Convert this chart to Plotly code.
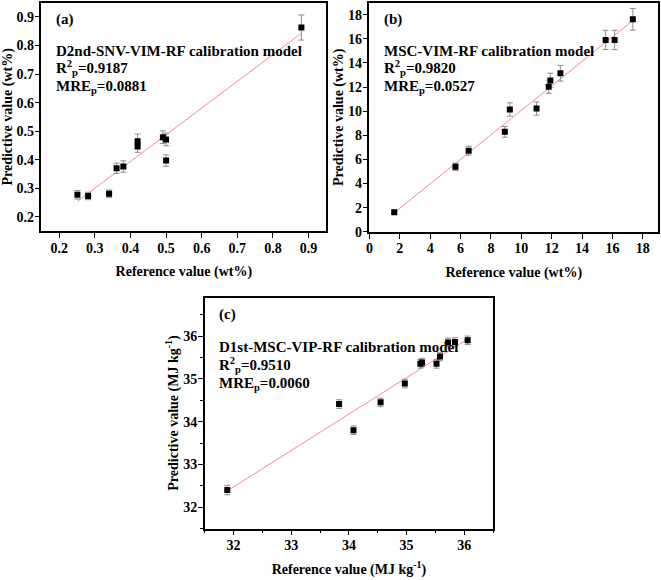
import plotly.graph_objects as go

# ---------------- data ----------------
# Panel (a)
a_ref = [0.251, 0.281, 0.340, 0.361, 0.380, 0.420, 0.420, 0.491, 0.500, 0.500, 0.880]
a_pred = [0.277, 0.273, 0.281, 0.370, 0.376, 0.465, 0.446, 0.479, 0.471, 0.397, 0.863]
a_err = [0.015, 0.013, 0.013, 0.018, 0.020, 0.025, 0.020, 0.022, 0.022, 0.020, 0.044]
a_fit_x = [0.251, 0.880]
a_fit_y = [0.254, 0.843]
a_ticks = [0.2, 0.3, 0.4, 0.5, 0.6, 0.7, 0.8, 0.9]
a_ticklabels = ["0.2", "0.3", "0.4", "0.5", "0.6", "0.7", "0.8", "0.9"]

# Panel (b)
b_ref = [1.63, 5.66, 6.53, 8.91, 9.24, 11.00, 11.80, 11.91, 12.57, 15.55, 16.14, 17.34]
b_pred = [1.62, 5.39, 6.72, 8.29, 10.14, 10.22, 12.03, 12.55, 13.15, 15.91, 15.91, 17.62]
b_err = [0.10, 0.30, 0.37, 0.45, 0.55, 0.55, 0.55, 0.60, 0.65, 0.80, 0.80, 0.90]
b_fit_x = [1.63, 17.34]
b_fit_y = [1.58, 17.52]
b_ticks = [0, 2, 4, 6, 8, 10, 12, 14, 16, 18]
b_ticklabels = ["0", "2", "4", "6", "8", "10", "12", "14", "16", "18"]

# Panel (c)
c_ref = [31.89, 33.83, 34.08, 34.55, 34.97, 35.24, 35.27, 35.52, 35.58, 35.72, 35.84, 36.06]
c_pred = [32.40, 34.41, 33.80, 34.45, 34.89, 35.35, 35.38, 35.35, 35.52, 35.85, 35.86, 35.90]
c_err = [0.11, 0.10, 0.10, 0.10, 0.10, 0.10, 0.10, 0.10, 0.10, 0.10, 0.10, 0.10]
c_fit_x = [31.89, 36.06]
c_fit_y = [32.38, 35.93]
c_ticks = [32, 33, 34, 35, 36]
c_ticklabels = ["32", "33", "34", "35", "36"]

panel_labels = ["(a)", "(b)", "(c)"]
model_names = ["D2nd-SNV-VIM-RF calibration model", "MSC-VIM-RF calibration model",
               "D1st-MSC-VIP-RF calibration model"]
r2_vals = ["0.9187", "0.9820", "0.9510"]
mre_vals = ["0.0881", "0.0527", "0.0060"]

FONT = "Liberation Serif"
RED = "#f58a8a"
ERRC = "#8c8c8c"

fig = go.Figure()

panels = [
    (a_ref, a_pred, a_err, a_fit_x, a_fit_y, "x", "y"),
    (b_ref, b_pred, b_err, b_fit_x, b_fit_y, "x2", "y2"),
    (c_ref, c_pred, c_err, c_fit_x, c_fit_y, "x3", "y3"),
]
for ref, pred, err, fx, fy, xa, ya in panels:
    fig.add_trace(go.Scatter(x=fx, y=fy, mode="lines", line=dict(color=RED, width=1),
                             xaxis=xa, yaxis=ya, showlegend=False, hoverinfo="skip"))
    fig.add_trace(go.Scatter(x=ref, y=pred, mode="markers",
                             marker=dict(symbol="square", size=6, color="black"),
                             error_y=dict(type="data", array=err, color=ERRC, thickness=1, width=3),
                             xaxis=xa, yaxis=ya, showlegend=False))

tickfont = dict(family=FONT, size=14, color="black", weight=700)
titlefont = dict(family=FONT, size=14, color="black", weight=700)

def axis(domain, rng, tv, tt, anchor, title, standoff, minor=None):
    d = dict(domain=domain, range=rng, tickmode="array", tickvals=tv,
             ticktext=["<b>" + t + "</b>" for t in tt], anchor=anchor,
             showgrid=False, zeroline=False, showline=True, linecolor="black", linewidth=1.5,
             mirror=True, ticks="outside", ticklen=5, tickwidth=1.2, tickcolor="black",
             ticklabelstandoff=-2,
             tickfont=tickfont, title=dict(text="<b>" + title + "</b>", font=titlefont, standoff=standoff))
    if minor:
        d["minor"] = dict(dtick=minor, tick0=tv[0], ticks="outside", ticklen=3, tickwidth=1.2,
                          tickcolor="black", showgrid=False)
    return d

fig.update_layout(
    width=661, height=580, margin=dict(l=0, r=0, t=0, b=0),
    paper_bgcolor="white", plot_bgcolor="white",
    xaxis=axis([0.0570, 0.4906], [0.15, 0.95], a_ticks, a_ticklabels, "y", "Reference value (wt%)", 12),
    yaxis=axis([0.596, 0.9953], [0.15, 0.95], a_ticks, a_ticklabels, "x", "Predictive value (wt%)", 1),
    xaxis2=axis([0.5563, 0.9955], [0, 19], b_ticks, b_ticklabels, "y2", "Reference value (wt%)", 12),
    yaxis2=axis([0.5948, 0.9953], [0, 19], b_ticks, b_ticklabels, "x2", "Predictive value (wt%)", 1),
    xaxis3=axis([0.3056, 0.7443], [31.5, 36.5], c_ticks, c_ticklabels, "y3",
                "Reference value (MJ kg<sup>-1</sup>)", 12, 0.5),
    yaxis3=axis([0.0759, 0.4798], [31.5, 36.9], c_ticks, c_ticklabels, "x3",
                "Predictive value (MJ kg<sup>-1</sup>)", 1, 0.5),
)

annfont = dict(family=FONT, size=15, color="black")
refs = [("x domain", "y domain"), ("x2 domain", "y2 domain"), ("x3 domain", "y3 domain")]
ypos_ab = [0.925, 0.79, 0.715, 0.63]
ypos_c = [0.925, 0.785, 0.71, 0.625]
for i, (xr, yr) in enumerate(refs):
    texts = [panel_labels[i], model_names[i],
             "R<sup>2</sup><sub>p</sub>=" + r2_vals[i],
             "MRE<sub>p</sub>=" + mre_vals[i]]
    ypos = ypos_c if i == 2 else ypos_ab
    for t, yp in zip(texts, ypos):
        fig.add_annotation(x=0.043, y=yp, xref=xr, yref=yr, text="<b>" + t + "</b>", showarrow=False,
                           xanchor="left", yanchor="middle", font=annfont)

fig.write_html("out.html")
